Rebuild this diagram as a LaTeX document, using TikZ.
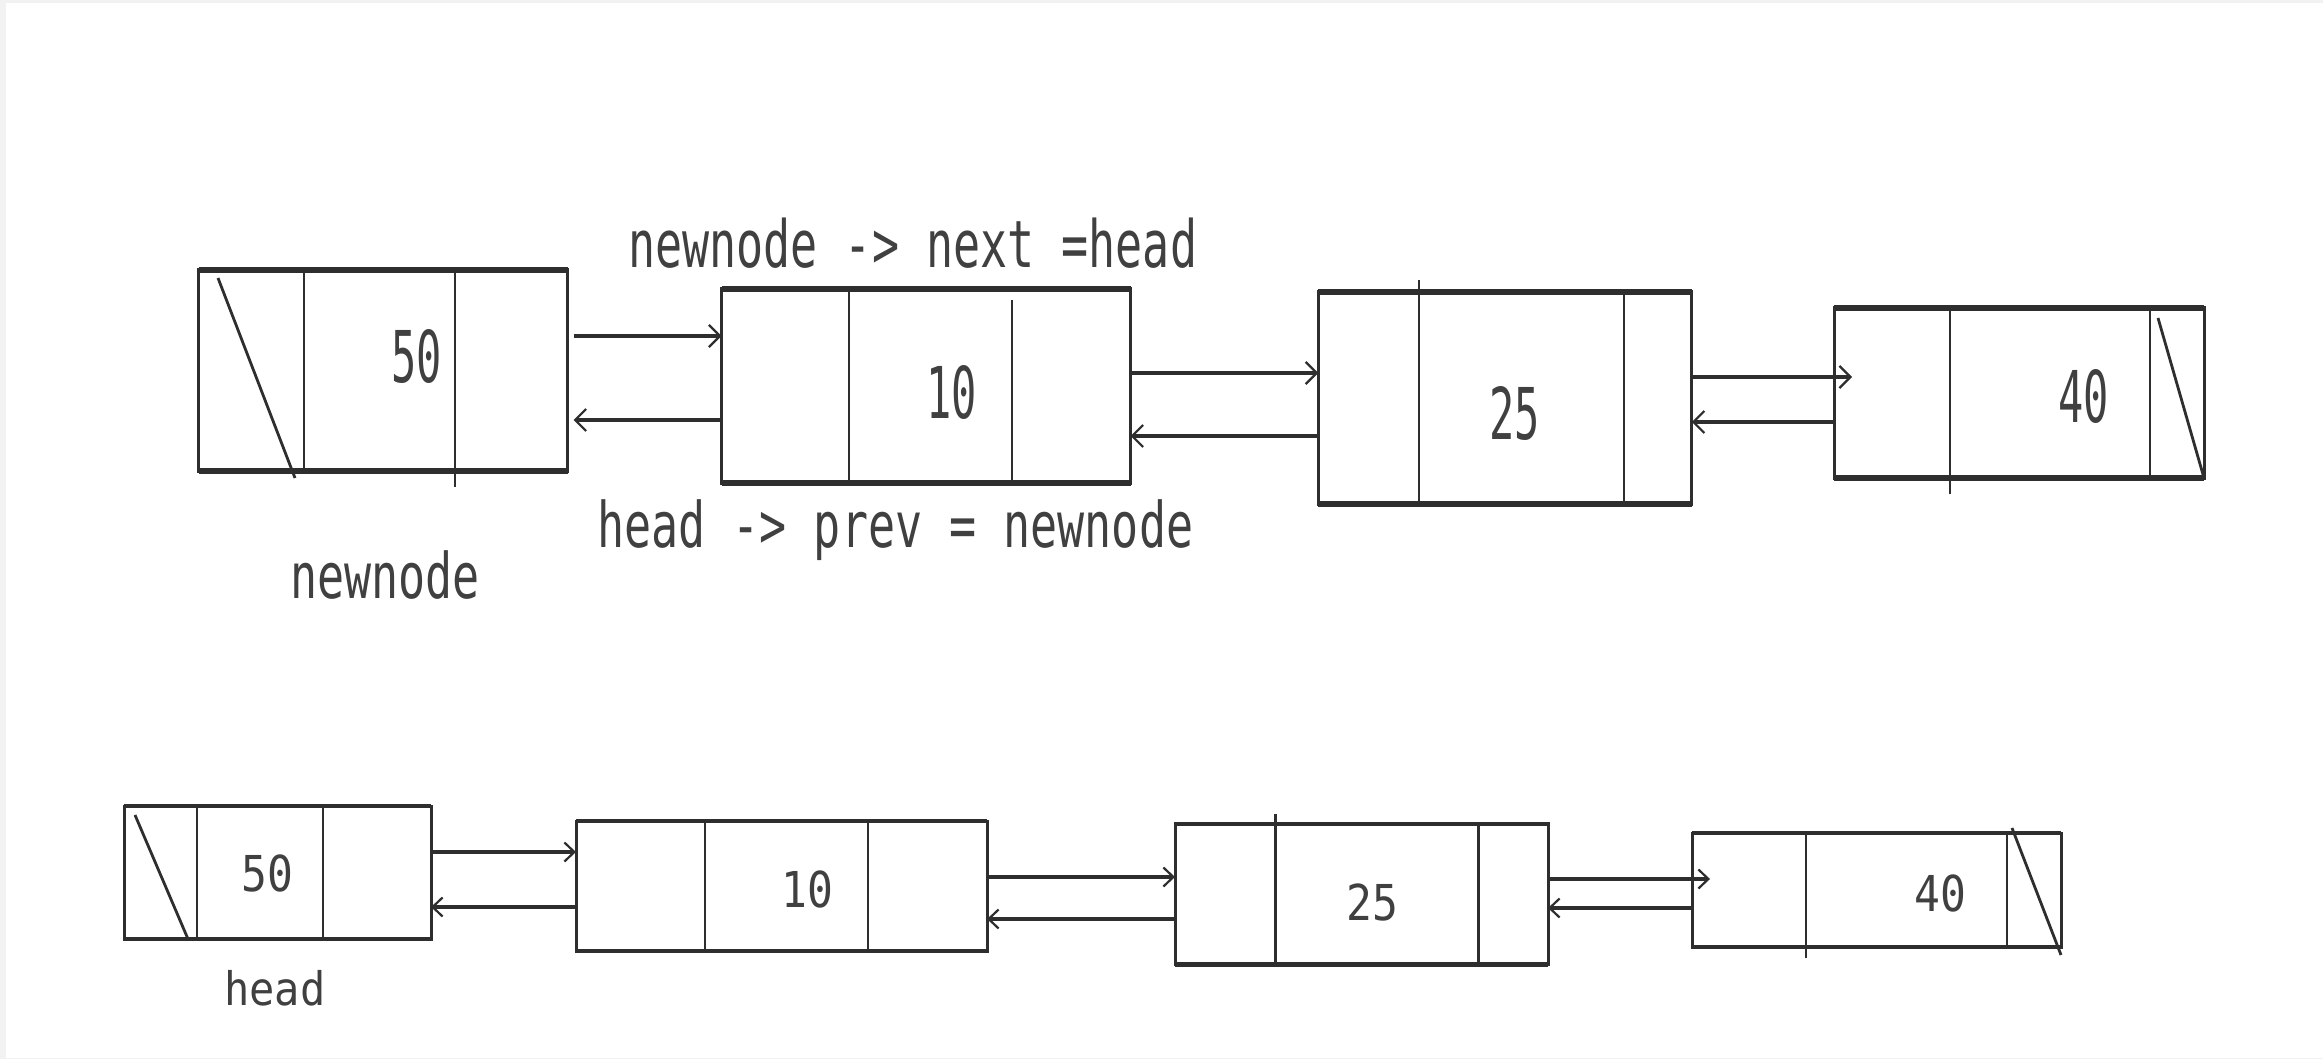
\documentclass[tikz,border=0pt]{standalone}
\usepackage{fontspec}
\usepackage{graphicx}
\usetikzlibrary{arrows.meta}
\newfontfamily\monof{DejaVu Sans Mono}
\newcommand\vstretch[2]{\scalebox{1}[#1]{#2}}
\definecolor{lc}{HTML}{2E2E2E}
\definecolor{tc}{HTML}{404040}
\definecolor{frame}{HTML}{F2F2F2}
\tikzset{
  box/.style={draw=lc, line width=3pt, rectangle, inner sep=0pt, outer sep=0pt},
  thickedge/.style={draw=lc, line width=6pt},
  thinedge/.style={draw=lc, line width=4.5pt},
  div/.style={draw=lc, line width=2.8pt},
  arr/.style={draw=lc, line width=4.5pt, -{Straight Barb[length=11pt,width=22pt,line width=2.2pt]}},
  arrs/.style={draw=lc, line width=3.8pt, -{Straight Barb[length=10pt,width=19pt,line width=2.2pt]}},
  lbl/.style={text=tc, inner sep=0pt, anchor=base west, font=\monof\fontsize{45}{45}\selectfont},
  numt/.style={text=tc, inner sep=0pt, anchor=base west, font=\monof\fontsize{42}{42}\selectfont},
  numb/.style={text=tc, inner sep=0pt, anchor=base west, font=\monof\fontsize{43}{43}\selectfont},
}
\begin{document}
\begin{tikzpicture}[x=1pt,y=-1pt]
\useasboundingbox (0,0) rectangle (2323,1059);
\fill[frame] (0,0) rectangle (2323,1059);
\fill[white] (6,3) rectangle (2323,1058);

% ---------- top row ----------
\node[box, minimum width=369pt, minimum height=201.5pt] (A) at (383,370.4) {};
\node[box, minimum width=409pt, minimum height=194pt] (B) at (926,386) {};
\node[box, minimum width=373.5pt, minimum height=212pt] (C) at (1505,398) {};
\node[box, minimum width=370pt, minimum height=170.5pt] (D) at (2019,393) {};
\foreach \n in {A,B,C,D}{
  \draw[thickedge] (\n.north west) -- (\n.north east);
  \draw[thickedge] (\n.south west) -- (\n.south east);
}
% dividers
\draw[div] (304,270) -- (304,471);
\draw[div] (455,270) -- (455,487);
\draw[div] (849,289) -- (849,483);
\draw[div] (1012,300) -- (1012,483);
\draw[div] (1419,280) -- (1419,504);
\draw[div] (1624,292) -- (1624,504);
\draw[div] (1950,308) -- (1950,494);
\draw[div] (2150,308) -- (2150,479);
% null slashes
\draw[div] (218,278) -- (295,478);
\draw[div] (2158,318) -- (2204,478);
% numbers
\node[numt] (tA) at (391,382) {\vstretch{1.7}{50}};
\node[numt] (tB) at (926,418) {\vstretch{1.7}{10}};
\node[numt] (tC) at (1489,439) {\vstretch{1.7}{25}};
\node[numt] (tD) at (2058,422) {\vstretch{1.7}{40}};
% links
\draw[arr] ([xshift=6pt]A.east |- 0,336) -- (B.west |- 0,336);
\draw[arr] (B.west |- 0,420) -- ([xshift=6pt]A.east |- 0,420);
\draw[arr] (B.east |- 0,373) -- (C.west |- 0,373);
\draw[arr] (C.west |- 0,436) -- (B.east |- 0,436);
\draw[arr] (C.east |- 0,377) -- ([xshift=18pt]D.west |- 0,377);
\draw[arr] (D.west |- 0,422) -- (C.east |- 0,422);
% labels
\node[lbl] (l1) at (628,268) {\vstretch{1.45}{newnode -> next =head}};
\node[lbl] (l2) at (597,547) {\vstretch{1.4}{head -> prev = newnode}};
\node[lbl] (l3) at (290,598) {\vstretch{1.4}{newnode}};

% ---------- bottom row ----------
\node[box, minimum width=307pt, minimum height=133pt] (Ab) at (277.5,872.5) {};
\node[box, minimum width=411pt, minimum height=130pt] (Bb) at (781.5,886) {};
\node[box, minimum width=373pt, minimum height=140.5pt] (Cb) at (1361.5,894) {};
\node[box, minimum width=369pt, minimum height=114pt] (Db) at (1876.5,890) {};
\foreach \n in {Ab,Bb,Cb,Db}{
  \draw[thinedge] (\n.north west) -- (\n.north east);
  \draw[thinedge] (\n.south west) -- (\n.south east);
}
\draw[div] (197,806) -- (197,939);
\draw[div] (323,806) -- (323,939);
\draw[div] (705,821) -- (705,951);
\draw[div] (868,821) -- (868,951);
\draw[div] (1275.5,814) -- (1275.5,964);
\draw[div] (1478.5,824) -- (1478.5,964);
\draw[div] (1806,833) -- (1806,958);
\draw[div] (2007,833) -- (2007,947);
\draw[div] (135,815) -- (188,939);
\draw[div] (2012,828) -- (2061,955);
\node[numb] (bA) at (241,891) {\vstretch{1.15}{50}};
\node[numb] (bB) at (781,907) {\vstretch{1.15}{10}};
\node[numb] (bC) at (1346,920) {\vstretch{1.15}{25}};
\node[numb] (bD) at (1914,911) {\vstretch{1.15}{40}};
\draw[arrs] (Ab.east |- 0,852) -- (Bb.west |- 0,852);
\draw[arrs] (Bb.west |- 0,907) -- (Ab.east |- 0,907);
\draw[arrs] (Bb.east |- 0,877) -- (Cb.west |- 0,877);
\draw[arrs] (Cb.west |- 0,919) -- (Bb.east |- 0,919);
\draw[arrs] (Cb.east |- 0,879) -- ([xshift=18pt]Db.west |- 0,879);
\draw[arrs] (Db.west |- 0,908) -- (Cb.east |- 0,908);
\node[lbl, font=\monof\fontsize{42}{42}\selectfont] (l4) at (224,1005) {\vstretch{1.1}{head}};
\end{tikzpicture}
\end{document}
